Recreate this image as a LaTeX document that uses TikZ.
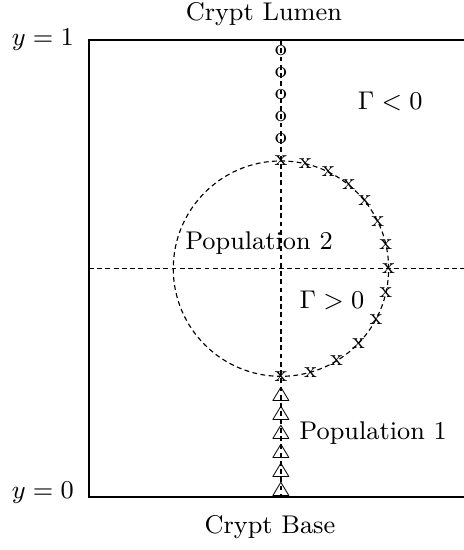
\documentclass[tikz,border=0pt]{standalone}
\usepackage{amsmath,amssymb}
\usepackage{tikz}
\usetikzlibrary{calc}

\begin{document}
\begin{tikzpicture}[
  every node/.style={font=\small},
  guide/.style={thin, dash pattern=on 1.7pt off 1.2pt},
  wall/.style={thin},
  marker/.style={inner sep=0pt, font=\footnotesize},
  tri/.style={inner sep=0pt, font=\scriptsize},
]
\useasboundingbox (-1.099,-0.655) rectangle (4.631,6.138);

% Crypt walls
\draw[wall] (4.631,5.644) -- (0,5.644) -- (0,0) -- (4.631,0);

% Axes through the centre
\coordinate (ctr) at (2.371,2.82);
\draw[guide] (2.371,5.644) -- (2.371,0);
\draw[guide] (0,2.82) -- (4.631,2.82);
\draw[guide] (ctr) circle (1.33);

% Population 2 (top)
\foreach \k in {0,...,4}
  \node[marker] (o\k) at (2.371,4.43+0.27*\k) {o};

% Boundary trajectory
\foreach \a [count=\i] in {90,77,64,51,39,26,13,0,-13,-28,-44,-59,-74,-90}
  \node[marker] (x\i) at ($(ctr)+(\a:1.33)$) {x};

% Population 1 (bottom)
\foreach \k in {0,...,5}
  \node[tri] (t\k) at (2.371,0.07+0.235*\k) {$\triangle$};

% Labels
\node (yone) at (-0.57,5.65) {$y=1$};
\node (yzero) at (-0.57,0.05) {$y=0$};
\node (lumen) at (2.16,5.965) {Crypt Lumen};
\node (base) at (2.235,-0.37) {Crypt Base};
\node (gneg) at (3.72,4.89) {$\Gamma<0$};
\node (pop2) at (2.10,3.14) {Population 2};
\node (gpos) at (3.00,2.43) {$\Gamma>0$};
\node (pop1) at (3.51,0.79) {Population 1};
\end{tikzpicture}
\end{document}
